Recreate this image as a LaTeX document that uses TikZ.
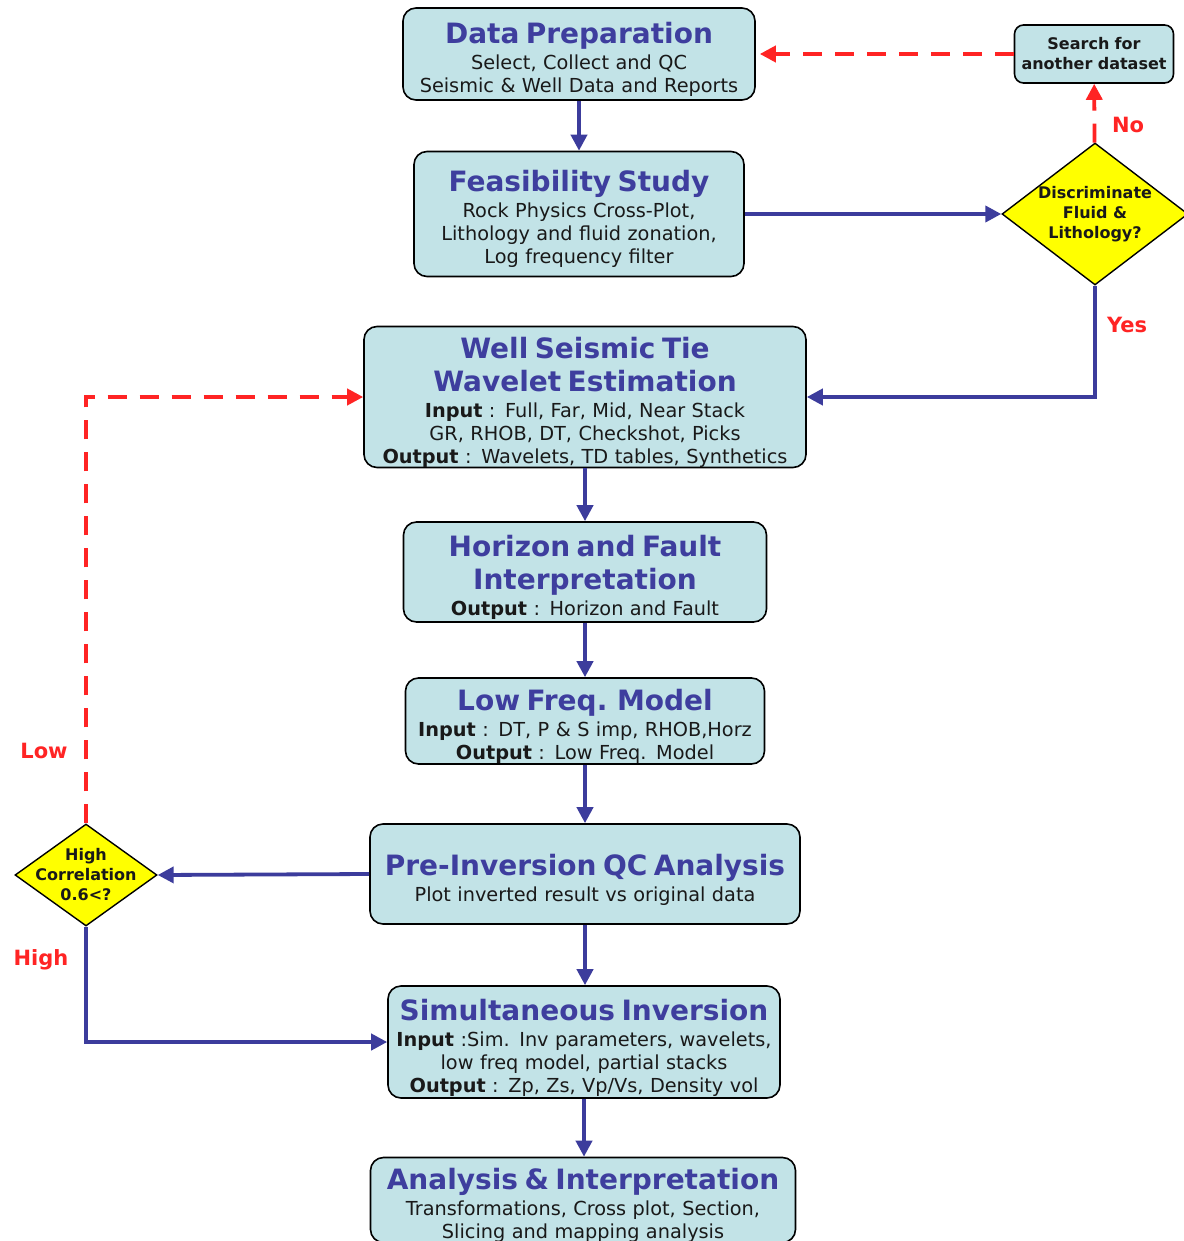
\documentclass[tikz,border=0pt]{standalone}
\usepackage{fontspec}
\setmainfont{DejaVu Sans}
\usetikzlibrary{arrows.meta, shapes.geometric}
\definecolor{boxfill}{RGB}{194,227,231}
\definecolor{titleblue}{RGB}{62,62,158}
\definecolor{flowblue}{RGB}{60,60,156}
\definecolor{redline}{RGB}{255,36,36}
\definecolor{yesyellow}{RGB}{255,255,0}
\definecolor{textgray}{RGB}{25,25,25}
\newcommand{\boxtitle}[1]{{\fontsize{28}{33}\selectfont\bfseries\color{titleblue}\rule{0pt}{32pt}#1\par}\vspace{3pt}}

\begin{document}
\begin{tikzpicture}[x=1pt, y=-1pt,
  box/.style={draw=black, line width=1.6pt, rounded corners=13pt, fill=boxfill, align=center, inner xsep=6pt, inner ysep=0pt, font=\fontsize{19.3}{23}\selectfont, text=textgray},
  decision/.style={diamond, draw=black, line width=1.4pt, fill=yesyellow, inner sep=0pt},
  decisiontext/.style={align=center, font=\fontsize{16}{20}\selectfont\bfseries, text=textgray},
  flow/.style={draw=flowblue, line width=3.8pt, -{Triangle[length=16pt,width=16pt]}},
  back/.style={draw=redline, line width=3.8pt, dash pattern=on 19pt off 13pt, -{Triangle[length=16pt,width=16pt]}},
  answer/.style={text=redline, font=\fontsize{21}{24}\selectfont\bfseries}]
  \useasboundingbox[fill=white] (0,0) rectangle (1183,1241);

  \node[box, text width=340pt, minimum height=92pt] (prep) at (579,54) {\boxtitle{Data Preparation}Select, Collect and QC\\Seismic \& Well Data and Reports};
  \node[box, text width=318pt, minimum height=125pt] (feas) at (579,214) {\boxtitle{Feasibility Study}Rock Physics Cross-Plot,\\Lithology and fluid zonation,\\Log frequency filter};
  \node[box, text width=430pt, minimum height=140pt] (well) at (585,397) {\boxtitle{Well Seismic Tie\\Wavelet Estimation}\textbf{Input} : Full, Far, Mid, Near Stack\\GR, RHOB, DT, Checkshot, Picks\\\textbf{Output} : Wavelets, TD tables, Synthetics};
  \node[box, text width=351pt, minimum height=100pt] (horiz) at (585,572) {\boxtitle{Horizon and Fault\\Interpretation}\textbf{Output} : Horizon and Fault};
  \node[box, text width=347pt, minimum height=86pt] (lowf) at (585,721) {\boxtitle{Low Freq. Model}\textbf{Input} : DT, P \& S imp, RHOB,Horz\\\textbf{Output} : Low Freq. Model};
  \node[box, text width=418pt, minimum height=100pt] (preinv) at (585,874) {\boxtitle{Pre-Inversion QC Analysis}Plot inverted result vs original data};
  \node[box, text width=380pt, minimum height=112pt] (siminv) at (584,1042) {\boxtitle{Simultaneous Inversion}\textbf{Input} :Sim. Inv parameters, wavelets,\\low freq model, partial stacks\\\textbf{Output} : Zp, Zs, Vp/Vs, Density vol};
  \node[box, text width=413pt, minimum height=80pt] (anal) at (583,1200) {\boxtitle{Analysis \& Interpretation}Transformations, Cross plot, Section,\\Slicing and mapping analysis};
  \node[box, rounded corners=9pt, text width=147pt, minimum height=58pt, font=\fontsize{16}{20}\selectfont\bfseries] (search) at (1094,54) {Search for\\another dataset};

  \node[decision, minimum width=186pt, minimum height=142pt, label={[decisiontext]center:Discriminate\\Fluid \&\\Lithology?}] (disc) at (1095,214) {};
  \node[decision, minimum width=142pt, minimum height=102pt, label={[decisiontext]center:High\\Correlation\\0.6<?}] (corr) at (86,875) {};

  \draw[flow] (prep) -- (feas);
  \draw[flow] (feas) -- (disc);
  \draw[back] (disc) -- (search);
  \draw[back, shorten >=4pt] (search.west) -- (prep.east);
  \draw[flow] (disc.south) |- (well.east);
  \draw[flow] (well) -- (horiz);
  \draw[flow] (horiz) -- (lowf);
  \draw[flow] (lowf) -- (preinv);
  \draw[flow] (preinv.west) -- (corr.east);
  \draw[back] (corr.north) |- (well.west);
  \draw[flow] (corr.south) |- (siminv.west);
  \draw[flow] (preinv.south) -- (preinv.south |- siminv.north);
  \draw[flow] (siminv.south) -- (siminv.south |- anal.north);

  \node[answer] (no) at (1128,125) {No};
  \node[answer] (yes) at (1127,325) {Yes};
  \node[answer] (low) at (44,751) {Low};
  \node[answer] (high) at (41,960) {High};
\end{tikzpicture}
\end{document}
